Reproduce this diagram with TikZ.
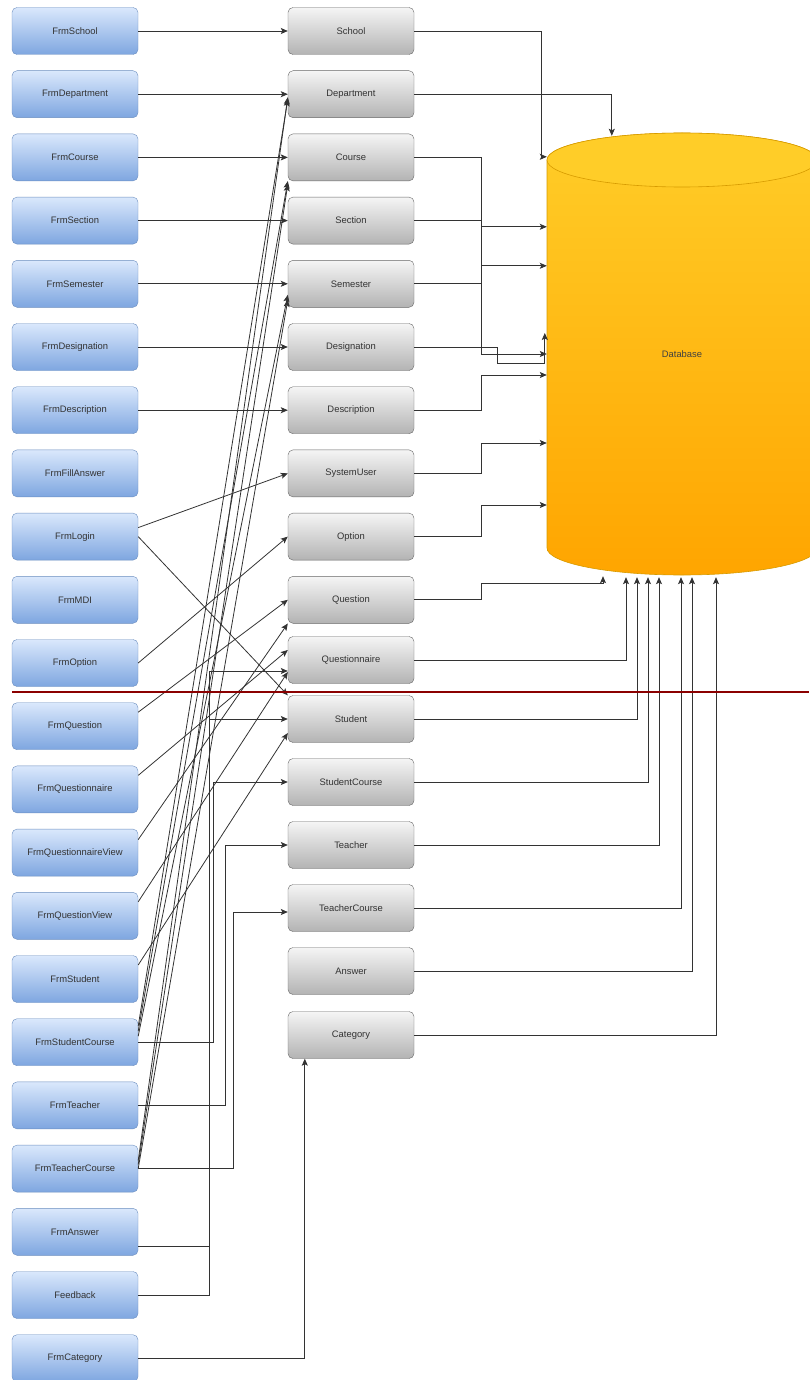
\documentclass[tikz,border=0pt]{standalone}
\usepackage{fontspec}
\setmainfont{Liberation Sans}
\usepackage{tikz}
\usetikzlibrary{shapes,arrows.meta,positioning}

\definecolor{frmtop}{HTML}{DAE8FC}
\definecolor{frmbot}{HTML}{7EA6E0}
\definecolor{frmline}{HTML}{6C8EBF}
\definecolor{tbltop}{HTML}{F5F5F5}
\definecolor{tblbot}{HTML}{B3B3B3}
\definecolor{tblline}{HTML}{666666}
\definecolor{dbtop}{HTML}{FFCD28}
\definecolor{dbbot}{HTML}{FFA500}
\definecolor{dbline}{HTML}{D79B00}
\definecolor{breakline}{HTML}{8B0000}

\tikzset{
  frmbox/.style={draw=frmline, top color=frmtop, bottom color=frmbot, rounded corners=5pt,
    minimum width=126pt, minimum height=47pt, inner sep=0pt, text=black!80,
    font=\fontsize{9.4}{11}\selectfont},
  tblbox/.style={frmbox, draw=tblline, top color=tbltop, bottom color=tblbot},
  link/.style={draw=black!80, line width=.8pt, -{Stealth[length=7pt,width=6pt,inset=1.5pt]}},
}

\begin{document}
\begin{tikzpicture}[x=1pt,y=-1pt]
    \useasboundingbox (0,0) rectangle (809,1380);

    \node[frmbox] (frmschool) at (75,31) {FrmSchool};
    \node[frmbox] (frmdepartment) at (75,94.2) {FrmDepartment};
    \node[frmbox] (frmcourse) at (75,157.4) {FrmCourse};
    \node[frmbox] (frmsection) at (75,220.6) {FrmSection};
    \node[frmbox] (frmsemester) at (75,283.8) {FrmSemester};
    \node[frmbox] (frmdesignation) at (75,347) {FrmDesignation};
    \node[frmbox] (frmdescription) at (75,410.2) {FrmDescription};
    \node[frmbox] (frmfillanswer) at (75,473.4) {FrmFillAnswer};
    \node[frmbox] (frmlogin) at (75,536.6) {FrmLogin};
    \node[frmbox] (frmmdi) at (75,599.8) {FrmMDI};
    \node[frmbox] (frmoption) at (75,663) {FrmOption};
    \node[frmbox] (frmquestion) at (75,726.2) {FrmQuestion};
    \node[frmbox] (frmquestionnaire) at (75,789.4) {FrmQuestionnaire};
    \node[frmbox] (frmquestionnaireview) at (75,852.6) {FrmQuestionnaireView};
    \node[frmbox] (frmquestionview) at (75,915.8) {FrmQuestionView};
    \node[frmbox] (frmstudent) at (75,979) {FrmStudent};
    \node[frmbox] (frmstudentcourse) at (75,1042.2) {FrmStudentCourse};
    \node[frmbox] (frmteacher) at (75,1105.4) {FrmTeacher};
    \node[frmbox] (frmteachercourse) at (75,1168.6) {FrmTeacherCourse};
    \node[frmbox] (frmanswer) at (75,1231.8) {FrmAnswer};
    \node[frmbox] (feedback) at (75,1295) {Feedback};
    \node[frmbox] (frmcategory) at (75,1358.2) {FrmCategory};

    \node[tblbox] (school) at (351,31) {School};
    \node[tblbox] (department) at (351,94.2) {Department};
    \node[tblbox] (course) at (351,157.4) {Course};
    \node[tblbox] (section) at (351,220.6) {Section};
    \node[tblbox] (semester) at (351,283.8) {Semester};
    \node[tblbox] (designation) at (351,347) {Designation};
    \node[tblbox] (description) at (351,410.2) {Description};
    \node[tblbox] (systemuser) at (351,473.4) {SystemUser};
    \node[tblbox] (option) at (351,536.6) {Option};
    \node[tblbox] (question) at (351,599.8) {Question};
    \node[tblbox] (questionnaire) at (351,660) {Questionnaire};
    \node[tblbox] (student) at (351,719) {Student};
    \node[tblbox] (studentcourse) at (351,782) {StudentCourse};
    \node[tblbox] (teacher) at (351,845) {Teacher};
    \node[tblbox] (teachercourse) at (351,908) {TeacherCourse};
    \node[tblbox] (answer) at (351,971) {Answer};
    \node[tblbox] (category) at (351,1035) {Category};

    \shadedraw[top color=dbtop, bottom color=dbbot, draw=dbline, line width=.6pt]
      (547,160) -- (547,548) arc (180:0:135 and 27) -- (817,160) arc (0:-180:135 and 27) -- cycle;
    \filldraw[fill=dbtop, draw=dbline, line width=.6pt] (682,160) ellipse (135 and 27);
    \node[minimum width=270pt, minimum height=442pt, inner sep=0pt, text=black!75,
      font=\fontsize{9.4}{11}\selectfont] (db) at (682,354) {Database};

    \draw[link] (frmschool) -- (school);
    \draw[link] (frmdepartment) -- (department);
    \draw[link] (frmcourse) -- (course);
    \draw[link] (frmsection) -- (section);
    \draw[link] (frmsemester) -- (semester);
    \draw[link] (frmdesignation) -- (designation);
    \draw[link] (frmdescription) -- (description);
    \draw[link] ([yshift=9pt]frmlogin.east) -- (systemuser.west);
    \draw[link] (frmlogin.east) -- (student.north west);
    \draw[link] (frmoption.east) -- (option.west);
    \draw[link] ([yshift=14pt]frmquestion.east) -- (question.west);
    \draw[link] ([yshift=14pt]frmquestionnaire.east) -- ([yshift=10pt]questionnaire.west);
    \draw[link] ([yshift=13pt]frmquestionnaireview.east) -- (question.south west);
    \draw[link] ([yshift=14pt]frmquestionview.east) -- ([yshift=-12pt]questionnaire.west);
    \draw[link] ([yshift=14pt]frmstudent.east) -- ([yshift=-14pt]student.west);

    \draw[link] ([yshift=16pt]frmstudentcourse.east) -- ([yshift=-5pt]department.west);
    \draw[link] ([yshift=11pt]frmstudentcourse.east) -- (course.south west);
    \draw[link] ([yshift=6pt]frmstudentcourse.east) -- ([yshift=-11pt]semester.west);
    \draw[link] ([yshift=8pt]frmteachercourse.east) -- ([yshift=-3pt]department.west);
    \draw[link] ([yshift=4pt]frmteachercourse.east) -- ([yshift=-3pt]course.south west);
    \draw[link] (frmteachercourse.east) -- ([yshift=-16pt]semester.west);

    \draw[link] (frmstudentcourse.east) -- ++(75,0) |- (studentcourse.west);
    \draw[link] (frmteacher.east) -- ++(87,0) |- (teacher.west);
    \draw[link] (frmteachercourse.east) -- ++(95,0) |- ([yshift=-4pt]teachercourse.west);
    \draw[link] ([yshift=-15pt]frmanswer.east) -- ++(71,0) |- (student.west);
    \draw[link] (feedback.east) -- ++(71,0) |- ([yshift=-11pt]questionnaire.west);
    \draw[link] (frmcategory.east) -| ([xshift=17pt]category.south west);

    \draw[link] (school.east) -- ++(127,0) |- ([yshift=-24pt]db.north west);
    \draw[link] (department.east) -| ([xshift=65pt,yshift=-3pt]db.north west);
    \draw[link] (course.east) -- ++(67,0) |- (db.west);
    \draw[link] (section.east) -- ++(67,0) |- ([yshift=-94pt]db.north west);
    \draw[link] (semester.east) -- ++(67,0) |- ([yshift=-133pt]db.north west);
    \draw[link] (designation.east) -- ++(83,0) |- ([xshift=-2pt,yshift=-9pt]db.west)
      -- ([xshift=-2pt,yshift=21pt]db.west);
    \draw[link] (description.east) -- ++(67,0) |- ([yshift=-21pt]db.west);
    \draw[link] (systemuser.east) -- ++(67,0) |- ([yshift=-89pt]db.west);
    \draw[link] (option.east) -- ++(67,0) |- ([yshift=-151pt]db.west);
    \draw[link] (question.east) -- ++(67,0) |- ([xshift=-79pt,yshift=-8pt]db.south)
      -- ([xshift=-79pt,yshift=-1pt]db.south);
    \draw[link] (questionnaire.east) -| ([xshift=-56pt,yshift=-2pt]db.south);
    \draw[link] (student.east) -| ([xshift=-45pt,yshift=-2pt]db.south);
    \draw[link] (studentcourse.east) -| ([xshift=-34pt,yshift=-2pt]db.south);
    \draw[link] (teacher.east) -| ([xshift=-23pt,yshift=-2pt]db.south);
    \draw[link] (teachercourse.east) -| ([xshift=-1pt,yshift=-2pt]db.south);
    \draw[link] (answer.east) -| ([xshift=10pt,yshift=-2pt]db.south);
    \draw[link] (category.east) -| ([xshift=34pt,yshift=-2pt]db.south);

    \draw[breakline, line width=1.6pt] (12,692) -- (809,692);
\end{tikzpicture}
\end{document}
